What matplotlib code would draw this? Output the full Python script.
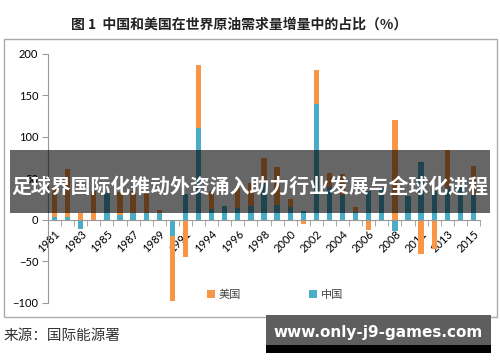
import matplotlib.pyplot as plt
import matplotlib.patches as patches
import numpy as np

plt.rcParams['font.family'] = ['Noto Sans CJK SC', 'DejaVu Sans']

years = ['1981', '1982', '1983', '1984', '1985', '1986', '1987', '1988', '1989', '1990',
         '1991', '1993', '1994', '1995', '1996', '1997', '1998', '1999', '2000', '2001',
         '2002', '2003', '2004', '2005', '2006', '2007', '2008', '2010', '2011', '2012',
         '2013', '2014', '2015']
china = [3, 3, -11, 0, 33, 6, 8, 8, 8, -19,
         31, 111, 13, 17, 15, 17, 45, 18, 16, 11,
         140, 40, 30, 10, 35, 39, -13, 29, 70, 35,
         38, 42, 30]
usa = [37, 58, 8, 35, 0, 28, 27, 25, 4, -79,
       -45, 76, 22, 0, 24, 28, 30, 46, 9, -5,
       41, 17, 25, 6, -12, 0, 121, 0, -41, -35,
       46, 0, 35]

orange = '#F79646'
blue = '#4BACC6'

china = np.array(china, dtype=float)
usa = np.array(usa, dtype=float)
x = np.arange(len(years))
# stack positives on positives, negatives on negatives
us_bottom = np.where(usa >= 0, np.maximum(china, 0), np.minimum(china, 0))

fig = plt.figure(figsize=(5, 3.62), dpi=100)
ax = fig.add_axes([0.096, 0.163, 0.864, 0.688])

ax.bar(x, china, width=0.4, color=blue, label='中国', zorder=2)
ax.bar(x, usa, width=0.4, bottom=us_bottom, color=orange, label='美国', zorder=2)

ax.set_xlim(-0.5, len(years) - 0.5)
ax.set_ylim(-100, 200)
ax.set_yticks([-100, -50, 0, 50, 100, 150, 200])
ax.tick_params(axis='y', labelsize=8, length=4, color='#999999', pad=3)

for s in ['top', 'right']:
    ax.spines[s].set_visible(False)
ax.spines['left'].set_color('#999999')
ax.spines['bottom'].set_color('#999999')
ax.spines['bottom'].set_position(('data', 0))

ax.set_xticks(x[::2])
ax.set_xticklabels(years[::2], rotation=45, ha='right', rotation_mode='anchor', fontsize=8,
                   family=['Lato', 'DejaVu Sans'])
ax.set_xticks(np.arange(-0.5, len(years), 1), minor=True)
ax.tick_params(axis='x', which='major', length=0, pad=6)
ax.tick_params(axis='x', which='minor', length=4, color='#999999')
for lab in ax.get_yticklabels():
    lab.set_family(['Lato', 'DejaVu Sans'])

handles, labels = ax.get_legend_handles_labels()
fig.legend(handles[::-1], labels[::-1], loc='center', bbox_to_anchor=(0.55, 0.186), ncol=2,
           frameon=False, fontsize=8, handlelength=0.7, handleheight=0.7,
           columnspacing=6.2, handletextpad=0.3, labelcolor='#444444')

# outer frame of the chart
fig.patches.append(patches.Rectangle((4 / 500, 1 - 317 / 362), 493 / 500, 278 / 362,
                                     transform=fig.transFigure, fill=False,
                                     edgecolor='#aaaaaa', linewidth=1))

fig.text(0.478, 1 - 25 / 362, '图 1  中国和美国在世界原油需求量增量中的占比（%）',
         ha='center', va='center', fontsize=10, fontweight='bold', color='#222222')
fig.text(4 / 500, 1 - 336 / 362, '来源：国际能源署', ha='left', va='center',
         fontsize=10.5, color='#333333')

# banner overlay
fig.patches.append(patches.Rectangle((10 / 500, 1 - 213 / 362), 480 / 500, 63 / 362,
                                     transform=fig.transFigure, facecolor='black',
                                     alpha=0.6, edgecolor='none', zorder=5))
fig.text(0.5, 1 - 186 / 362, '足球界国际化推动外资涌入助力行业发展与全球化进程',
         ha='center', va='center', fontsize=14.3, fontweight='bold', color='white', zorder=6)

# watermark
fig.patches.append(patches.Rectangle((266 / 500, 1 - 345 / 362), 225 / 500, 30 / 362,
                                     transform=fig.transFigure, facecolor='#5e5e5e',
                                     edgecolor='none', zorder=5))
fig.patches.append(patches.Rectangle((266 / 500, 1 - 353 / 362), 225 / 500, 8 / 362,
                                     transform=fig.transFigure, facecolor='black',
                                     edgecolor='none', zorder=5))
fig.text(378 / 500, 1 - 332 / 362, 'www.only-j9-games.com', ha='center', va='center',
         fontsize=11, fontweight='bold', color='white', zorder=6, family='DejaVu Sans')

fig.savefig('out.png', dpi=100)
